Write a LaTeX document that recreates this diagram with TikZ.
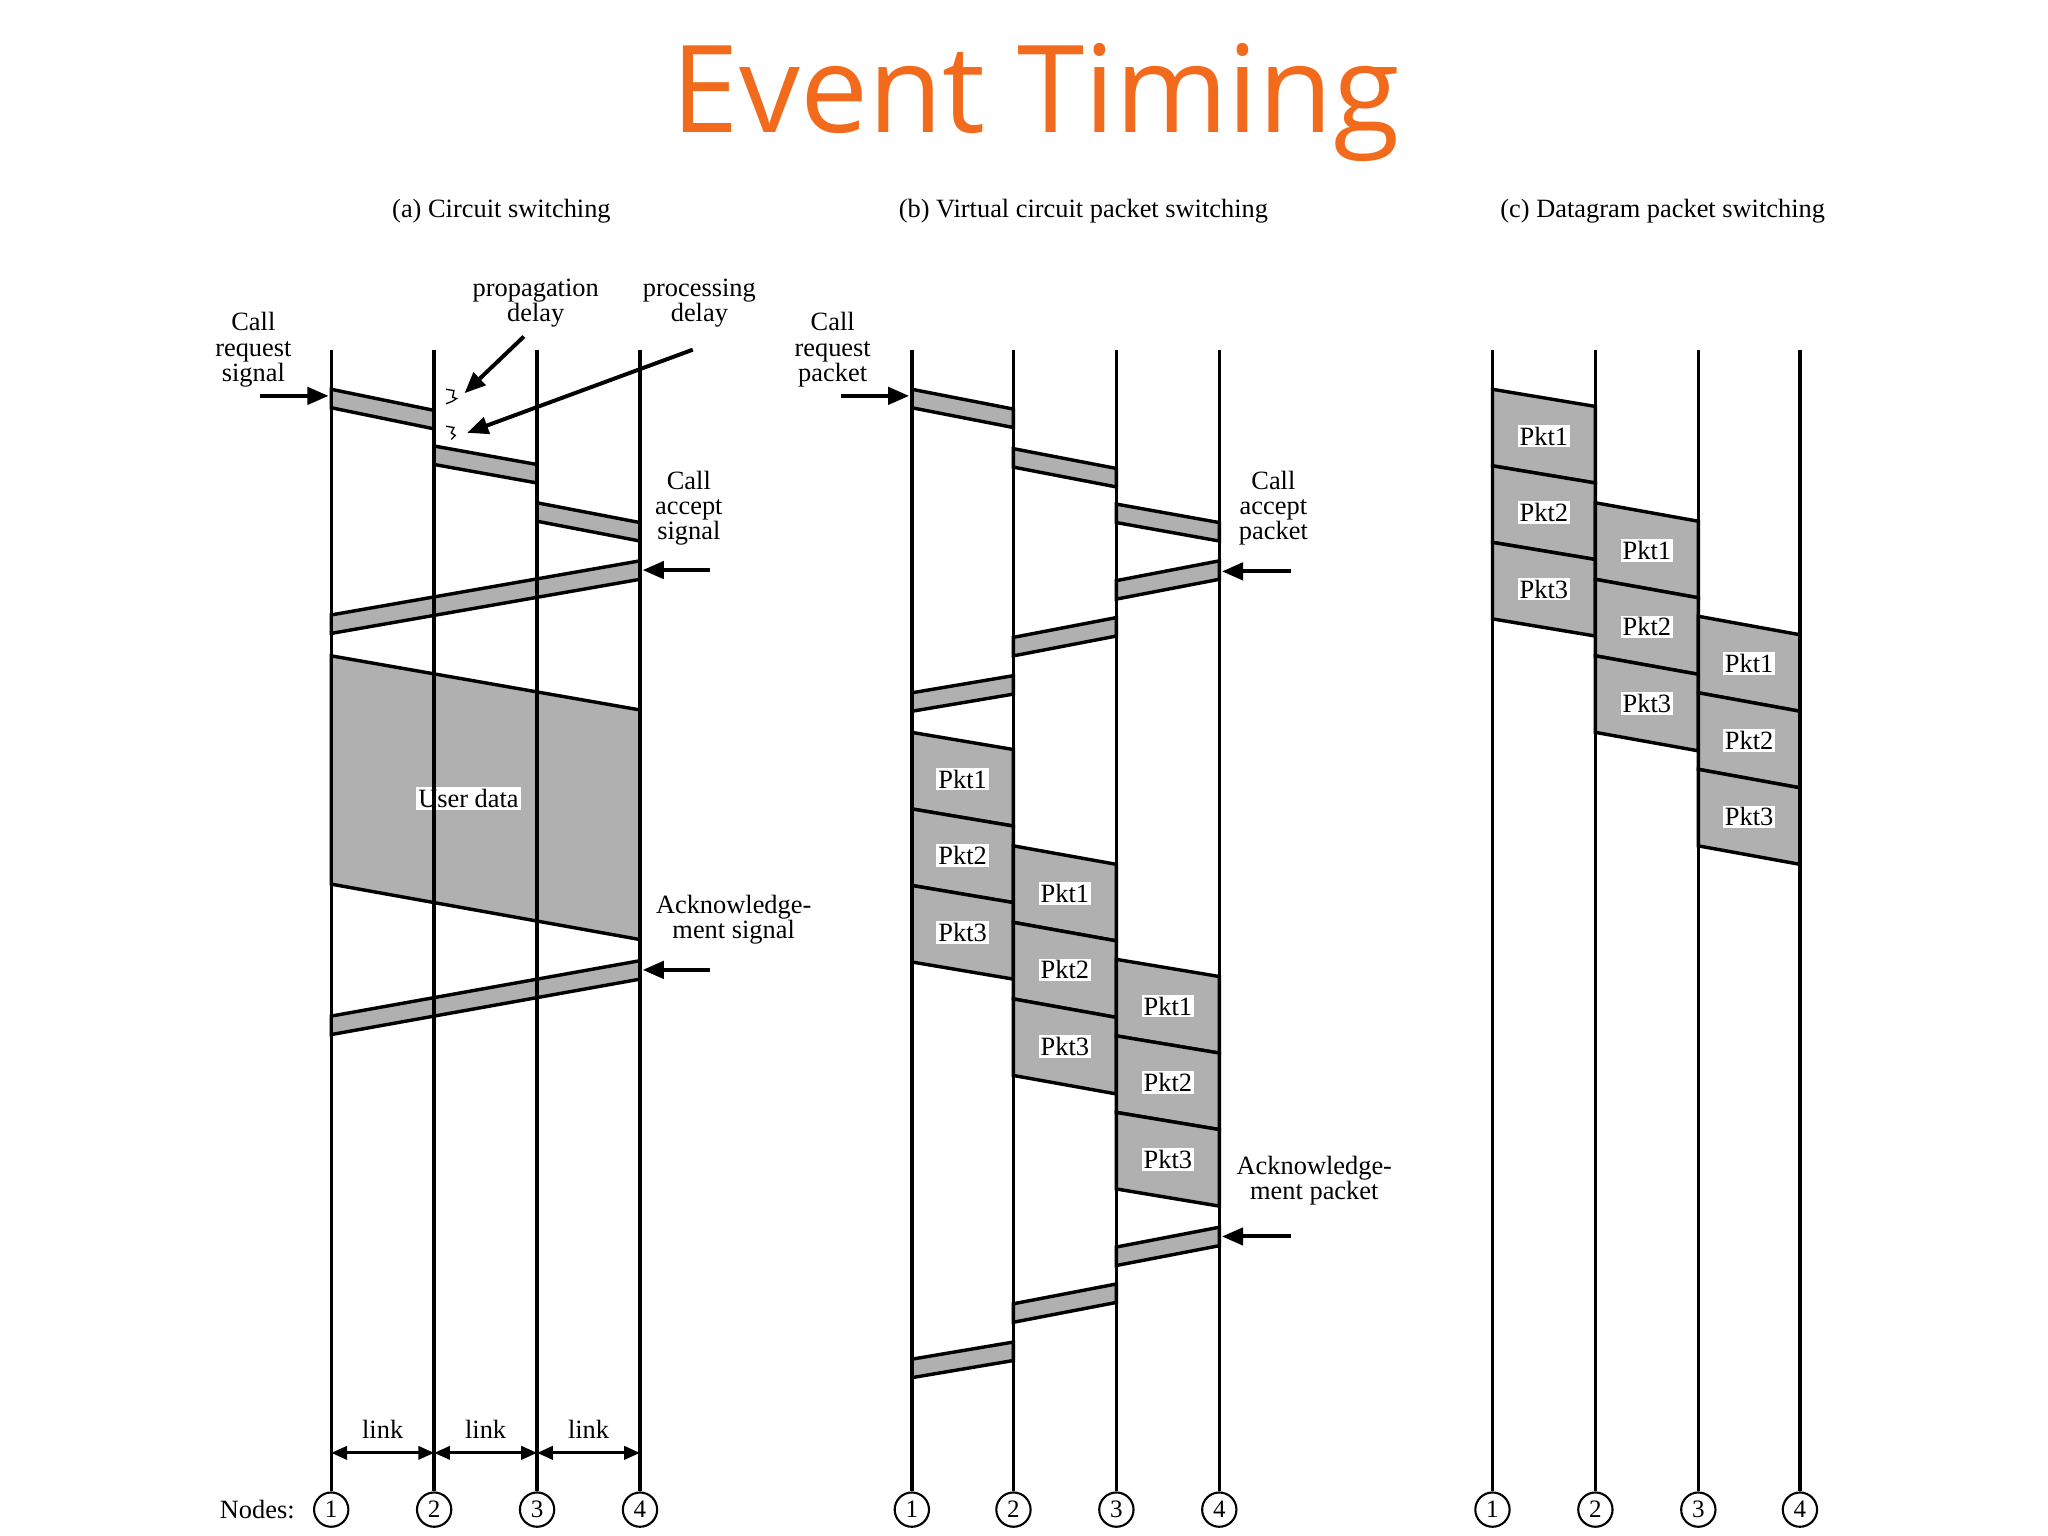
\documentclass[tikz,border=0pt]{standalone}
\usepackage{fontspec}
\setmainfont{Liberation Serif}
\newfontfamily\titlefont{Open Sans}
\definecolor{orng}{HTML}{F26B1D}
\definecolor{bandgray}{HTML}{B0B0B0}
\tikzset{
  vline/.style={line width=2.6pt},
  bandbox/.style={draw=black,fill=bandgray,line width=2.6pt,line join=miter},
  lbl/.style={font=\fontsize{20}{21}\selectfont,align=center,inner sep=0pt},
  pktlbl/.style={fill=white,font=\fontsize{20}{21}\selectfont,inner sep=1.5pt},
  nodecirc/.style={circle,draw,line width=1.6pt,minimum size=26pt,inner sep=0pt,font=\fontsize{19}{20}\selectfont},
  bigarrow/.style={line width=3pt,-{Triangle[length=16pt,width=13pt]}},
  linkarrow/.style={line width=2.4pt,{Triangle[length=12pt,width=10pt]}-{Triangle[length=12pt,width=10pt]}}
}
\usetikzlibrary{arrows.meta}
\newcommand{\band}[4]{\draw[bandbox] (#1,#2)--(#3,#4)--(#3,#4+14)--(#1,#2+14)--cycle;}
\newcommand{\pkt}[5]{\draw[bandbox] (#1,#2)--(#3,#4)--(#3,#4+58)--(#1,#2+58)--cycle;
  \node[pktlbl] at ({(#1+#3)/2},{(#2+#4)/2+29}) {#5};}
\begin{document}
\begin{tikzpicture}[x=1pt,y=-1pt]
\useasboundingbox[fill=white] (0,0) rectangle (1552,1164);
\node[font=\titlefont\fontsize{92}{92}\selectfont,text=orng] (title) at (785,78) {Event Timing};
\node[lbl] (ha) at (380,160) {(a) Circuit switching};
\node[lbl] (hb) at (821,160) {(b) Virtual circuit packet switching};
\node[lbl] (hc) at (1260,160) {(c) Datagram packet switching};
% ---------- panel a
\band{251}{295}{329}{311}
\band{329}{338}{407}{352}
\band{407}{381}{485}{396}
\band{485}{425}{251}{466}
\draw[bandbox] (251,497)--(485,538)--(485,712)--(251,670)--cycle;
\node[pktlbl] (ud) at (355,605) {User data};
\band{485}{728}{251}{770}
\foreach \x/\n in {251/1,329/2,407/3,485/4}{
  \draw[vline] (\x,265)--(\x,1130);
  \node[nodecirc] (a\n) at (\x,1144) {\n};
}
\node[lbl] (nodes) at (195,1144) {Nodes:};
\node[lbl] (crs) at (192,265) {Call\\[-2pt]request\\[-2pt]signal};
\coordinate (crsA) at (197,300); \coordinate (crsB) at (249,300);
\draw[bigarrow] (crsA)--(crsB);
\node[lbl] (cas) at (522,385) {Call\\[-2pt]accept\\[-2pt]signal};
\coordinate (casA) at (538,432); \coordinate (casB) at (487,432);
\draw[bigarrow] (casA)--(casB);
\node[lbl] (acks) at (556,697) {Acknowledge-\\[-2pt]ment signal};
\coordinate (acksA) at (538,735); \coordinate (acksB) at (487,735);
\draw[bigarrow] (acksA)--(acksB);
\node[lbl] (prop) at (406,230) {propagation\\[-2pt]delay};
\node[lbl] (proc) at (530,230) {processing\\[-2pt]delay};
\coordinate (propA) at (397,255); \coordinate (propB) at (352,298);
\coordinate (procA) at (525,265); \coordinate (procB) at (354,328);
\draw[bigarrow] (propA)--(propB);
\draw[bigarrow] (procA)--(procB);
\draw[line width=1pt] (338,295) -- (344,296) -- (343,301) -- (346,302) -- (343,304) -- (338,306);
\draw[line width=1pt] (338,323) -- (344,324) -- (342,328) -- (345,330) -- (342,333);
\foreach \xa/\xb/\i in {251/329/1,329/407/2,407/485/3}{
  \coordinate (l\i a) at (\xa,1101); \coordinate (l\i b) at (\xb,1101);
  \draw[linkarrow] (l\i a)--(l\i b);
  \node[lbl] (lt\i) at ({(\xa+\xb)/2},1083) {link};
}
% ---------- panel b
\band{691}{295}{768}{310}
\band{768}{340}{846}{355}
\band{846}{382}{924}{396}
\band{924}{425}{846}{440}
\band{846}{468}{768}{483}
\band{768}{512}{691}{525}
\pkt{691}{555}{768}{568}{Pkt1}
\pkt{691}{613}{768}{626}{Pkt2}
\pkt{691}{671}{768}{684}{Pkt3}
\pkt{768}{641}{846}{655}{Pkt1}
\pkt{768}{699}{846}{713}{Pkt2}
\pkt{768}{757}{846}{771}{Pkt3}
\pkt{846}{727}{924}{740}{Pkt1}
\pkt{846}{785}{924}{798}{Pkt2}
\pkt{846}{843}{924}{856}{Pkt3}
\band{924}{930}{846}{945}
\band{846}{973}{768}{988}
\band{768}{1017}{691}{1030}
\foreach \x/\n in {691/1,768/2,846/3,924/4}{
  \draw[vline] (\x,265)--(\x,1130);
  \node[nodecirc] (b\n) at (\x,1144) {\n};
}
\node[lbl] (crp) at (631,265) {Call\\[-2pt]request\\[-2pt]packet};
\coordinate (crpA) at (637,300); \coordinate (crpB) at (689,300);
\draw[bigarrow] (crpA)--(crpB);
\node[lbl] (cap) at (965,385) {Call\\[-2pt]accept\\[-2pt]packet};
\coordinate (capA) at (978,433); \coordinate (capB) at (926,433);
\draw[bigarrow] (capA)--(capB);
\node[lbl] (ackp) at (996,895) {Acknowledge-\\[-2pt]ment packet};
\coordinate (ackpA) at (978,937); \coordinate (ackpB) at (926,937);
\draw[bigarrow] (ackpA)--(ackpB);
% ---------- panel c
\pkt{1131}{295}{1209}{308}{Pkt1}
\pkt{1131}{353}{1209}{366}{Pkt2}
\pkt{1131}{411}{1209}{424}{Pkt3}
\pkt{1209}{381}{1287}{395}{Pkt1}
\pkt{1209}{439}{1287}{453}{Pkt2}
\pkt{1209}{497}{1287}{511}{Pkt3}
\pkt{1287}{467}{1364}{481}{Pkt1}
\pkt{1287}{525}{1364}{539}{Pkt2}
\pkt{1287}{583}{1364}{597}{Pkt3}
\foreach \x/\n in {1131/1,1209/2,1287/3,1364/4}{
  \draw[vline] (\x,265)--(\x,1130);
  \node[nodecirc] (c\n) at (\x,1144) {\n};
}
\end{tikzpicture}
\end{document}
